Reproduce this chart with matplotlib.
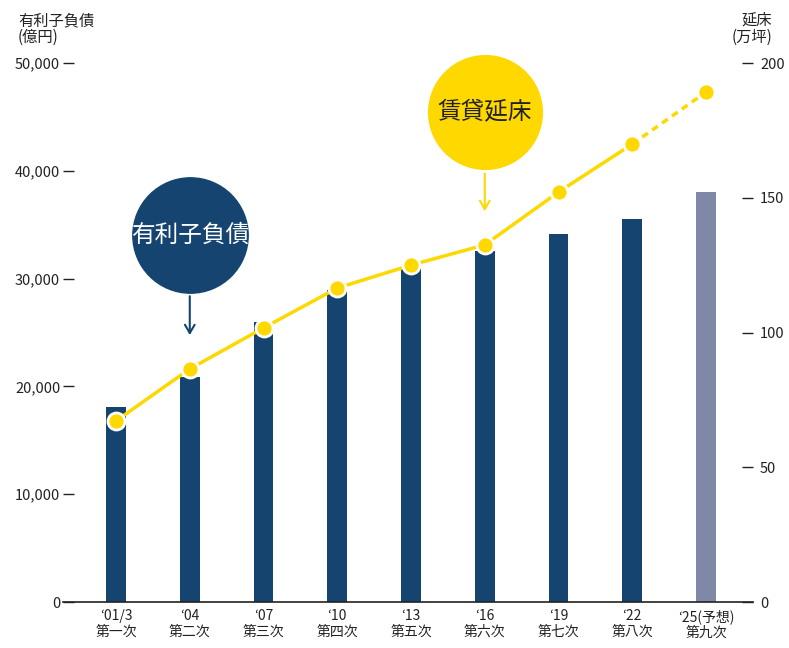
import matplotlib
matplotlib.use("Agg")
import matplotlib.pyplot as plt
import numpy as np

plt.rcParams['font.family'] = ['Noto Sans CJK JP', 'DejaVu Sans']

years = ["‘01/3", "‘04", "‘07", "‘10", "‘13", "‘16", "‘19", "‘22", "‘25(予想)"]
phases = ["第一次", "第二次", "第三次", "第四次", "第五次", "第六次", "第七次", "第八次", "第九次"]
debt = [18100, 20900, 26000, 28900, 31000, 32600, 34100, 35500, 38000]   # 億円
floor = [67.2, 86.5, 101.7, 116.5, 125.0, 132.5, 152.1, 169.9, 189.2]  # 万坪

navy = "#14446f"
yellow = "#ffd800"
future = "#8088a8"
txt = "#222222"

fig = plt.figure(figsize=(7.89, 6.48), dpi=100)
ax = fig.add_axes([63/789, 46/648, 690/789, 539/648])
ax2 = ax.twinx()

x = np.arange(len(debt))
colors = [navy] * (len(debt) - 1) + [future]
ax.bar(x, debt, width=0.27, color=colors, zorder=2)
ax.set_ylim(0, 50000)
ax.set_xlim(-0.719, 8.637)

ax2.plot(x[:-1], floor[:-1], color=yellow, lw=2.5, zorder=3)
ax2.plot(x[-2:], floor[-2:], color=yellow, lw=2.5, ls=(0, (2, 1.5)), zorder=3)
ax2.scatter(x, floor, s=150, color=yellow, edgecolor="white", linewidth=2, zorder=4)
ax2.set_ylim(0, 200)

for a in (ax, ax2):
    for s in ("top", "left", "right"):
        a.spines[s].set_visible(False)
    a.spines["bottom"].set_visible(a is ax)
ax.spines["bottom"].set_color("#222222")
ax.spines["bottom"].set_linewidth(1.2)

ax.set_yticks([0, 10000, 20000, 30000, 40000, 50000])
ax.set_yticklabels(["0", "10,000", "20,000", "30,000", "40,000", "50,000"])
ax.tick_params(axis="y", direction="in", length=8, width=1, pad=2, labelsize=10.5, colors=txt)
ax2.set_yticks([0, 50, 100, 150, 200])
ax2.tick_params(axis="y", direction="in", length=8, width=1, pad=5, labelsize=10.5, colors=txt)

ax.set_xticks(x)
ax.set_xticklabels([f"{y}\n{p}" for y, p in zip(years, phases)], fontsize=10, color=txt, linespacing=1.2)
ax.tick_params(axis="x", length=0, pad=5)

fig.text(18/789, 1 - 12/648, "有利子負債\n(億円)", ha="left", va="top", fontsize=11, color=txt, linespacing=1.0)
fig.text(772/789, 1 - 12/648, "延床\n(万坪)", ha="right", va="top", fontsize=11, color=txt, linespacing=1.0)

# bubble labels
ax2.scatter([1], [136], s=6900, color=navy, zorder=5, clip_on=False)
ax2.text(1, 136, "有利子負債", color="white", fontsize=17, ha="center", va="center", zorder=6)
ax2.annotate("", xy=(1, 98), xytext=(1, 114.5),
             arrowprops=dict(arrowstyle="->,head_width=0.35,head_length=0.6", color=navy, lw=1.5), zorder=5)

ax2.scatter([5], [182], s=6700, color=yellow, zorder=5, clip_on=False)
ax2.text(5, 182, "賃貸延床", color="#222222", fontsize=17, ha="center", va="center", zorder=6)
ax2.annotate("", xy=(5, 144), xytext=(5, 160),
             arrowprops=dict(arrowstyle="->,head_width=0.35,head_length=0.6", color=yellow, lw=1.5), zorder=5)

fig.savefig("out.png", dpi=100)
